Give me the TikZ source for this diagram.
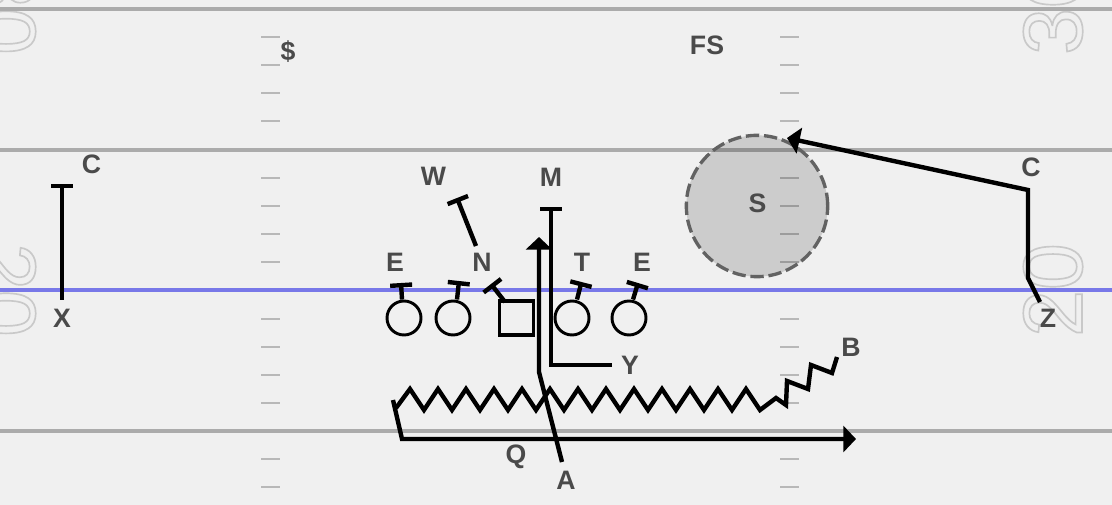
\documentclass[tikz,border=0pt]{standalone}
\usepackage{xcolor}
\usepackage{fontspec}
\usepackage{tikz}
\setmainfont{Liberation Sans}
\usetikzlibrary{arrows.meta,positioning,calc}
\definecolor{turf}{HTML}{F0F0F0}
\definecolor{yard}{HTML}{ABABAB}
\definecolor{tick}{HTML}{B8B8B8}
\definecolor{scrim}{HTML}{7878E8}
\definecolor{ink}{HTML}{4A4A4A}
\definecolor{zone}{HTML}{626262}
\newcommand{\yardnum}[1]{\special{pdf:code q 1 Tr 1.25 w 0.79 0.79 0.79 RG}#1\special{pdf:code Q}}
\tikzstyle{lbl}=[text=ink,font=\fontsize{20pt}{22pt}\selectfont\bfseries,inner sep=0pt]
\tikzstyle{num}=[font=\fontsize{63pt}{63pt}\selectfont,inner sep=0pt]
\tikzstyle{yardline}=[draw=yard,line width=2.3pt]
\tikzstyle{hash}=[draw=tick,line width=1pt]
\tikzstyle{man}=[circle,draw=black,line width=2.2pt,minimum size=25.5pt,inner sep=0pt]
\tikzstyle{ctr}=[rectangle,draw=black,line width=2.4pt,minimum size=25.5pt,inner sep=0pt]
\tikzstyle{route}=[draw=black,line width=3.3pt,line join=miter]
\tikzstyle{blockr}=[route,-{Bar[width=16.5pt,line width=3.3pt]}]
\tikzstyle{runr}=[route,-{Triangle[length=9.5pt,width=19.5pt]}]

\begin{document}
\begin{tikzpicture}[x=0.75pt,y=-0.75pt]
  \useasboundingbox (0,0) rectangle (1112,505);
  \clip (0,0) rectangle (1112,505);
  \fill[turf] (0,0) rectangle (1112,505);
  % numbers
  \node[num,rotate=-90] (numa) at (6,8) {\yardnum{30}};
  \node[num,rotate=-90] (numb) at (6,290) {\yardnum{20}};
  \node[num,rotate=90] (numc) at (1053,8) {\yardnum{30}};
  \node[num,rotate=90] (numd) at (1053,290) {\yardnum{20}};
  % field
  \foreach \y in {9,150,431}
    \draw[yardline] (0,\y) -- (1112,\y);
  \foreach \y in {37,65,93,121,178,206,234,262,319,347,375,403,459,487} {
    \draw[hash] (261,\y) -- (280,\y);
    \draw[hash] (780,\y) -- (799,\y);
  }
  \draw[draw=scrim,line width=3.3pt] (0,290) -- (1112,290);
  % zone
  \node[circle,draw=zone,fill=black,fill opacity=0.15,draw opacity=1,line width=2.5pt,
    dash pattern=on 10pt off 3.6pt,minimum size=106pt,inner sep=0pt] (zone) at (757,206) {};
  % line
  \node[man] (le) at (404,318) {};
  \node[man] (lg) at (453,318) {};
  \node[ctr] (cn) at (516.5,318) {};
  \node[man] (rg) at (572,318) {};
  \node[man] (re) at (629,318) {};
  % ends
  \coordinate (lebl) at (401,283);
  \coordinate (lgbl) at (459,281);
  \coordinate (cnbl) at (491,284);
  \coordinate (rgbl) at (581.5,282);
  \coordinate (rebl) at (638,283);
  \coordinate (nbot) at (476,246);
  \coordinate (wbl) at (457,198);
  \coordinate (xbot) at (62,300);
  \coordinate (xbl) at (62,184);
  \coordinate (yend) at (612,365);
  \coordinate (ycor) at (551,365);
  \coordinate (mbl) at (551,207);
  \coordinate (abot) at (562,462);
  \coordinate (abnd) at (539,372);
  \coordinate (atip) at (539,237);
  \coordinate (qtop) at (393,400);
  \coordinate (qbnd) at (402,439);
  \coordinate (qtip) at (856,439);
  \coordinate (zbot) at (1040,302);
  \coordinate (zbnd) at (1028,278);
  \coordinate (zcor) at (1028,190);
  \coordinate (ztip) at (787,138);
  \coordinate (bzst) at (396,408);
  \coordinate (bzen) at (837,357);
  % blocks
  \draw[blockr] (le.north) ++(-2,0) -- (lebl);
  \draw[blockr] (lg.north) ++(4,0) -- (lgbl);
  \draw[blockr] (505,302) -- (cnbl);
  \draw[blockr] (rg.north) ++(5,0) -- (rgbl);
  \draw[blockr] (re.north) ++(4,0) -- (rebl);
  \draw[blockr] (nbot) -- (wbl);
  \draw[blockr] (xbot) -- (xbl);
  \draw[blockr] (yend) -- (ycor) -- (mbl);
  % routes
  \draw[route] (bzst) foreach \x in {410,438,466,494,522,550,578,606,634,662,690,718,746} {
    -- (\x,389) -- (\x+14,410) } -- (776,398) -- (786,405) -- (787,381) -- (808,389)
    -- (811,365) -- (832,373) -- (bzen);
  \draw[runr] (qtop) -- (qbnd) -- (qtip);
  \draw[runr] (abot) -- (abnd) -- (atip);
  \draw[runr] (zbot) -- (zbnd) -- (zcor) -- (ztip);
  % labels
  \node[lbl] (cl) at (91.5,164) {C};
  \node[lbl] (xl) at (62,318.5) {X};
  \node[lbl] (wl) at (433.5,176) {W};
  \node[lbl] (ml) at (551,177) {M};
  \node[lbl] (ea) at (395,262) {E};
  \node[lbl] (nl) at (482,262) {N};
  \node[lbl] (tl) at (582,262) {T};
  \node[lbl] (eb) at (642,262) {E};
  \node[lbl] (dl) at (288,52) {\$};
  \node[lbl] (fs) at (707,45) {FS};
  \node[lbl] (sl) at (757.5,203) {S};
  \node[lbl] (cr) at (1031,167) {C};
  \node[lbl] (zl) at (1048,318) {Z};
  \node[lbl] (bl) at (851,347) {B};
  \node[lbl] (yl) at (630,365) {Y};
  \node[lbl] (ql) at (516,456.5) {Q};
  \node[lbl] (al) at (566,480) {A};
\end{tikzpicture}
\end{document}
